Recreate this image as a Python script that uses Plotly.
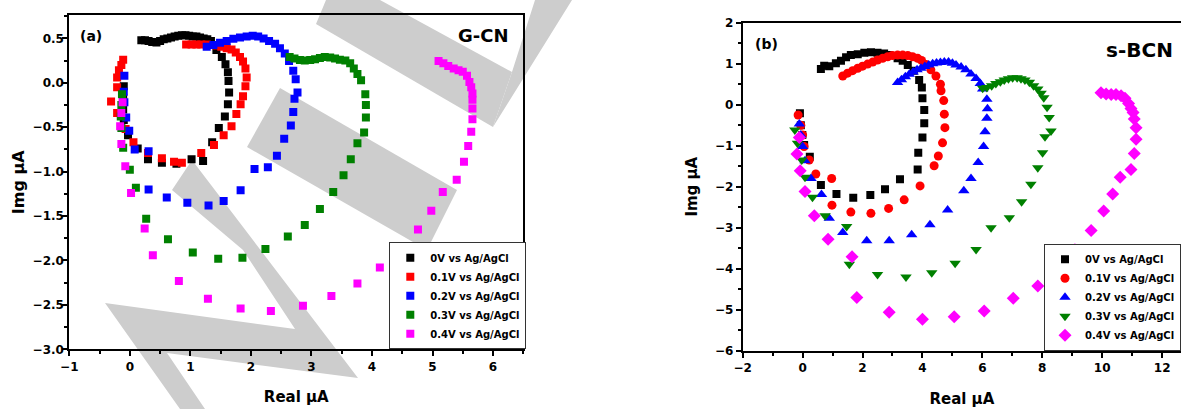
import plotly.graph_objects as go

W, H = 1181, 409

# ---------------- data: panel (a) G-CN ----------------
a0_x = [0.19, 0.25, 0.31, 0.37, 0.44, 0.50, 0.56, 0.62, 0.68, 0.74, 0.80, 0.86, 0.92, 0.98, 1.04, 1.10, 1.16, 1.22, 1.28, 1.34,
        1.43, 1.52, 1.58, 1.62, 1.63, 1.64, 1.62, 1.57, 1.47, 1.36, 1.21, 1.02, 0.77, 0.53, 0.30, 0.13, -0.03, -0.10, -0.11, -0.11, -0.10]
a0_y = [0.48, 0.48, 0.47, 0.46, 0.455, 0.47, 0.49, 0.50, 0.51, 0.52, 0.53, 0.535, 0.535, 0.53, 0.52, 0.52, 0.51, 0.50, 0.49, 0.47,
        0.37, 0.29, 0.21, 0.12, 0.02, -0.11, -0.24, -0.38, -0.51, -0.67, -0.88, -0.86, -0.91, -0.90, -0.86, -0.74, -0.59, -0.42, -0.30, -0.17, -0.04]

a1_x = [0.93, 1.02, 1.10, 1.18, 1.27, 1.35, 1.43, 1.51, 1.60, 1.68, 1.75, 1.82, 1.87, 1.91, 1.93, 1.91, 1.87, 1.83, 1.76, 1.68,
        1.55, 1.39, 1.18, 0.86, 0.73, 0.53, 0.30, 0.06, -0.07, -0.21, -0.31, -0.21, -0.21, -0.18, -0.14, -0.11]
a1_y = [0.43, 0.43, 0.43, 0.43, 0.43, 0.425, 0.42, 0.405, 0.39, 0.376, 0.34, 0.29, 0.24, 0.16, 0.06, -0.04, -0.15, -0.24, -0.35, -0.49,
        -0.59, -0.70, -0.79, -0.90, -0.89, -0.85, -0.79, -0.67, -0.52, -0.34, -0.21, -0.05, 0.06, 0.14, 0.20, 0.26]

a2_x = [1.27, 1.38, 1.49, 1.60, 1.71, 1.82, 1.93, 2.03, 2.12, 2.21, 2.30, 2.40, 2.48, 2.56, 2.63, 2.70, 2.74, 2.77, 2.72, 2.70,
        2.66, 2.55, 2.43, 2.28, 2.06, 1.83, 1.55, 1.30, 0.95, 0.61, 0.31, 0.31, 0.08, -0.01, -0.06, -0.09, -0.10, -0.09]
a2_y = [0.405, 0.425, 0.45, 0.47, 0.496, 0.51, 0.52, 0.53, 0.52, 0.50, 0.47, 0.44, 0.39, 0.33, 0.245, 0.135, 0.04, -0.11, -0.18, -0.33,
        -0.48, -0.63, -0.82, -0.95, -0.97, -1.21, -1.33, -1.38, -1.35, -1.29, -1.20, -0.77, -0.75, -0.54, -0.39, -0.22, -0.10, 0.08]

a3_x = [2.64, 2.72, 2.81, 2.89, 2.98, 3.06, 3.14, 3.22, 3.31, 3.39, 3.47, 3.56, 3.64, 3.70, 3.76, 3.82, 3.89, 3.90, 3.90, 3.87,
        3.76, 3.65, 3.53, 3.36, 3.14, 2.89, 2.61, 2.24, 1.86, 1.46, 1.04, 0.63, 0.27, 0.10, 0.00, -0.11, -0.14, -0.15, -0.14, -0.13]
a3_y = [0.29, 0.275, 0.256, 0.25, 0.256, 0.265, 0.28, 0.29, 0.285, 0.275, 0.26, 0.25, 0.22, 0.16, 0.10, 0.03, -0.13, -0.25, -0.39, -0.56,
        -0.68, -0.86, -1.04, -1.23, -1.42, -1.60, -1.73, -1.87, -1.97, -1.98, -1.91, -1.76, -1.53, -1.18, -0.98, -0.73, -0.51, -0.38, -0.25, -0.13]

a4_x = [5.10, 5.18, 5.26, 5.35, 5.43, 5.50, 5.57, 5.61, 5.64, 5.66, 5.66, 5.66, 5.66, 5.64, 5.59, 5.52, 5.40, 5.17, 4.98, 4.76,
        4.48, 4.13, 3.76, 3.33, 2.86, 2.33, 1.83, 1.29, 0.81, 0.38, 0.245, 0.02, -0.075, -0.14, -0.16, -0.14, -0.12]
a4_y = [0.245, 0.22, 0.19, 0.16, 0.14, 0.125, 0.08, 0.01, -0.05, -0.12, -0.19, -0.29, -0.41, -0.55, -0.71, -0.89, -1.09, -1.23, -1.44, -1.65,
        -1.87, -2.08, -2.26, -2.40, -2.51, -2.57, -2.54, -2.43, -2.23, -1.94, -1.64, -1.24, -0.94, -0.69, -0.49, -0.34, -0.22]

# ---------------- data: panel (b) s-BCN ----------------
b0_x = [0.61, 0.72, 0.89, 1.11, 1.28, 1.45, 1.61, 1.84, 2.06, 2.28, 2.50, 2.72, 2.89, 3.17, 3.34, 3.51, 3.71, 3.89, 3.98, 4.00,
        4.06, 4.06, 4.00, 3.86, 3.84, 3.25, 2.75, 2.26, 1.69, 1.13, 0.61, 0.24, 0.05, -0.01, -0.06, -0.09]
b0_y = [0.87, 0.95, 0.94, 1.01, 1.07, 1.16, 1.21, 1.23, 1.27, 1.28, 1.27, 1.25, 1.21, 1.13, 1.07, 0.97, 0.83, 0.60, 0.42, 0.16,
        -0.13, -0.45, -0.80, -1.17, -1.58, -1.82, -2.06, -2.20, -2.27, -2.18, -1.96, -1.27, -0.98, -0.74, -0.50, -0.21]

b1_x = [1.34, 1.50, 1.67, 1.84, 2.00, 2.17, 2.34, 2.50, 2.67, 2.84, 3.00, 3.17, 3.34, 3.51, 3.67, 3.84, 3.97, 4.12, 4.28, 4.45,
        4.60, 4.62, 4.71, 4.73, 4.75, 4.67, 4.53, 4.39, 3.92, 3.39, 2.87, 2.28, 1.61, 0.98, 0.97, 0.44, 0.22, 0.05, 0.00, -0.06, -0.15]
b1_y = [0.70, 0.77, 0.83, 0.89, 0.94, 0.99, 1.04, 1.09, 1.13, 1.17, 1.20, 1.21, 1.21, 1.20, 1.17, 1.13, 1.08, 0.98, 0.85, 0.70,
        0.50, 0.34, 0.10, -0.23, -0.56, -0.93, -1.25, -1.49, -1.98, -2.32, -2.53, -2.65, -2.62, -2.45, -1.80, -1.69, -1.35, -1.02, -0.74, -0.50, -0.25]

b2_x = [3.17, 3.30, 3.43, 3.56, 3.69, 3.82, 3.95, 4.08, 4.21, 4.34, 4.47, 4.60, 4.73, 4.87, 5.00, 5.12, 5.29, 5.45, 5.62, 5.79,
        5.93, 6.01, 6.15, 6.17, 6.15, 6.09, 6.04, 5.86, 5.62, 5.38, 4.84, 4.25, 3.64, 2.89, 2.14, 1.34, 0.89, 0.63, 0.28, 0.08, 0.00, -0.06, -0.11]
b2_y = [0.54, 0.61, 0.68, 0.74, 0.80, 0.85, 0.89, 0.93, 0.97, 1.00, 1.02, 1.03, 1.04, 1.04, 1.01, 0.97, 0.92, 0.85, 0.75, 0.64,
        0.52, 0.38, 0.13, -0.10, -0.33, -0.66, -1.02, -1.41, -1.80, -2.10, -2.57, -2.93, -3.17, -3.32, -3.32, -3.12, -2.77, -2.19, -1.80, -1.37, -1.02, -0.74, -0.47]

b3_x = [6.01, 6.15, 6.31, 6.45, 6.60, 6.73, 6.87, 7.01, 7.16, 7.29, 7.42, 7.57, 7.71, 7.85, 7.96, 8.05, 8.16, 8.23, 8.29, 8.09,
        8.01, 7.85, 7.62, 7.31, 6.90, 6.29, 5.79, 5.09, 4.31, 3.45, 2.50, 1.56, 1.47, 0.75, 0.33, 0.08, -0.03, -0.17, -0.26]
b3_y = [0.40, 0.42, 0.46, 0.52, 0.56, 0.60, 0.63, 0.66, 0.66, 0.63, 0.60, 0.55, 0.46, 0.38, 0.28, 0.17, -0.06, -0.31, -0.64, -0.78,
        -1.17, -1.54, -1.94, -2.37, -2.76, -3.00, -3.53, -3.87, -4.10, -4.20, -4.14, -3.89, -2.97, -2.71, -2.26, -1.77, -1.35, -0.94, -0.62]

b4_x = [9.96, 10.13, 10.30, 10.46, 10.63, 10.76, 10.88, 10.96, 11.03, 11.07, 11.13, 11.13, 11.07, 10.96, 10.60, 10.35, 10.05, 9.63, 9.09, 8.57,
        7.85, 7.03, 6.06, 5.06, 4.00, 2.89, 1.81, 1.65, 0.85, 0.39, 0.08, -0.08, -0.19, -0.11]
b4_y = [0.29, 0.26, 0.25, 0.25, 0.22, 0.16, 0.03, -0.09, -0.19, -0.35, -0.56, -0.84, -1.19, -1.58, -1.77, -2.18, -2.59, -3.07, -3.54, -3.99,
        -4.42, -4.72, -5.03, -5.17, -5.23, -5.06, -4.70, -3.71, -3.28, -2.71, -2.12, -1.61, -1.20, -0.80]

series_names = ["0V vs Ag/AgCl", "0.1V vs Ag/AgCl", "0.2V vs Ag/AgCl", "0.3V vs Ag/AgCl", "0.4V vs Ag/AgCl"]
colors = ["#000000", "#ff0000", "#0000ff", "#008000", "#ff00ff"]
b_symbols = ["square", "circle", "triangle-up", "triangle-down", "diamond"]
b_sizes = [8, 9, 10, 10, 10]

a_data = [(a0_x, a0_y), (a1_x, a1_y), (a2_x, a2_y), (a3_x, a3_y), (a4_x, a4_y)]
b_data = [(b0_x, b0_y), (b1_x, b1_y), (b2_x, b2_y), (b3_x, b3_y), (b4_x, b4_y)]

FONT = "DejaVu Sans"

fig = go.Figure()
for i, (xs, ys) in enumerate(a_data):
    fig.add_trace(go.Scatter(x=xs, y=ys, mode="markers", name=series_names[i],
                             marker=dict(symbol="square", size=8, color=colors[i], line=dict(width=0)),
                             xaxis="x", yaxis="y", legend="legend"))
for i, (xs, ys) in enumerate(b_data):
    fig.add_trace(go.Scatter(x=xs, y=ys, mode="markers", name=series_names[i],
                             marker=dict(symbol=b_symbols[i], size=b_sizes[i], color=colors[i], line=dict(width=0)),
                             xaxis="x2", yaxis="y2", legend="legend2"))

tickfont = dict(family=FONT, size=12, color="black", weight="bold")

def xax(domain, rng, dtick, mdtick, title, anchor, mirror=True):
    return dict(domain=domain, range=rng, dtick=dtick, tick0=0, anchor=anchor,
                ticks="outside", ticklen=5, tickwidth=2, tickcolor="black",
                minor=dict(dtick=mdtick, tick0=0, ticks="outside", ticklen=3, tickwidth=2, tickcolor="black"),
                showline=True, linewidth=2, linecolor="black", mirror=mirror,
                showgrid=False, zeroline=False, tickfont=tickfont, automargin=False,
                title=dict(text=title, font=dict(family=FONT, size=15, color="black", weight="bold"), standoff=19))

def yax(domain, rng, dtick, mdtick, title, anchor, fmt=None, mirror=True, tsize=15, standoff=8, lstand=0):
    d = dict(domain=domain, range=rng, dtick=dtick, tick0=0, anchor=anchor,
             ticks="outside", ticklen=5, tickwidth=2, tickcolor="black",
             minor=dict(dtick=mdtick, tick0=0, ticks="outside", ticklen=3, tickwidth=2, tickcolor="black"),
             showline=True, linewidth=2, linecolor="black", mirror=mirror,
             showgrid=False, zeroline=False, tickfont=tickfont, automargin=False,
             ticklabelstandoff=lstand,
             title=dict(text=title, font=dict(family=FONT, size=tsize, color="black", weight="bold"), standoff=standoff))
    if fmt:
        d["tickformat"] = fmt
    return d

fig.update_layout(
    width=W, height=H,
    margin=dict(l=0, r=0, t=0, b=0, autoexpand=False),
    paper_bgcolor="white", plot_bgcolor="rgba(0,0,0,0)",
    xaxis=xax([69.3 / W, 523.3 / W], [-1, 6.5], 1, 0.5, "Real µA", "y"),
    yaxis=yax([1 - 349.3 / H, 1 - 15.3 / H], [-3, 0.76], 0.5, 0.25, "Img µA", "x", fmt=".1f", tsize=16, standoff=4, lstand=-4),
    xaxis2=xax([742.7 / W, 1.0], [-2, 12.63], 2, 1, "Real µA", "y2", mirror=True),
    yaxis2=yax([1 - 350.7 / H, 1 - 22.7 / H], [-6, 2], 1, 0.5, "Img µA", "x2", mirror=False, tsize=15, standoff=14),
    showlegend=True,
    legend=dict(x=389.3 / W, y=1 - 349.3 / H, xanchor="left", yanchor="bottom",
                bgcolor="white", bordercolor="#333333", borderwidth=1,
                font=dict(family=FONT, size=10, color="black", weight="bold"), tracegroupgap=0),
    legend2=dict(x=1044 / W, y=1 - 350.7 / H, xanchor="left", yanchor="bottom",
                 bgcolor="white", bordercolor="#333333", borderwidth=1,
                 font=dict(family=FONT, size=10, color="black", weight="bold"), tracegroupgap=0),
)

# panel labels
def label(px, py, text, size):
    fig.add_annotation(x=px / W, y=1 - py / H, xref="paper", yref="paper", text=text,
                       showarrow=False, xanchor="center", yanchor="middle",
                       font=dict(family=FONT, size=size, color="black", weight="bold"))

label(91, 36, "(a)", 14)
label(483.5, 35, "G-CN", 18)
label(766, 44.5, "(b)", 14)
label(1139, 50, "s-BCN", 20)

# background watermark (light grey strokes), pixel polygons converted to paper
watermark = [
    [(192, 160), (358, 378), (167, 353), (205, 409), (180, 409), (105, 303), (295, 329), (243, 250), (172, 190)],
    [(247, 147), (280, 88), (457, 190), (427, 250)],
    [(316, 24), (326, 0), (380, 0), (512, 72), (493, 127)],
    [(493, 127), (512, 72), (535, 0), (572, 0)],
]
for poly in watermark:
    path = "M " + " L ".join(f"{px / W:.5f},{1 - py / H:.5f}" for px, py in poly) + " Z"
    fig.add_shape(type="path", path=path, xref="paper", yref="paper",
                  fillcolor="#cdcdcd", line=dict(width=0), layer="below")

fig.write_html("out.html")
